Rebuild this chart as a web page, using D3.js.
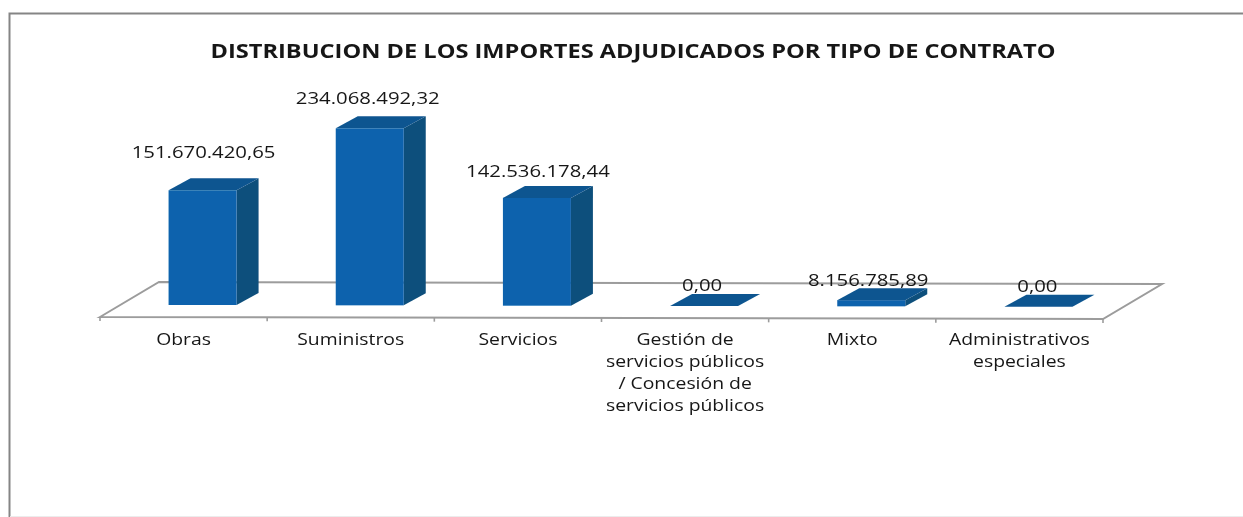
<!DOCTYPE html>
<html>
<head>
<meta charset="utf-8">
<script src="https://cdn.jsdelivr.net/npm/d3@7/dist/d3.min.js"></script>
<style>
  html, body { margin: 0; padding: 0; background: #fff; }
  svg { display: block; }
  text { font-family: "Open Sans", sans-serif; fill: #161616; }
</style>
</head>
<body>
<div id="chart"></div>
<script>
const width = 1243;
const height = 517;

const titleText = 'DISTRIBUCION DE LOS IMPORTES ADJUDICADOS POR TIPO DE CONTRATO';
const categories = ['Obras', 'Suministros', 'Servicios', 'Gestión', 'Mixto', 'Administrativos'];
const categoryLines = [
    ['Obras'],
    ['Suministros'],
    ['Servicios'],
    ['Gestión de', 'servicios públicos', '/ Concesión de', 'servicios públicos'],
    ['Mixto'],
    ['Administrativos', 'especiales']
];
const values = [151670420.65, 234068492.32, 142536178.44, 0, 8156785.89, 0];
const valueLabels = ['151.670.420,65', '234.068.492,32', '142.536.178,44', '0,00', '8.156.785,89', '0,00'];

// excel puts the data labels a bit off, these follow the picture
const labelNudgeX = [1, -2, 1, -2, -3, -1];
const labelNudgeY = [-11, -3, 0, 6, 7, 6];

const depthX = 22;
const depthY = 12;
const barW = 68;
const blue = '#0a62ad';
const blueTop = '#0b5590';
const blueSide = '#0d4f7c';

// the scan is wider than the font, so stretch each text after measuring it
function stretch(sel, factor) {
    sel.each(function () {
        const w = this.getComputedTextLength();
        d3.select(this)
            .attr('textLength', w * factor)
            .attr('lengthAdjust', 'spacingAndGlyphs');
    });
}

const svg = d3.select('#chart')
    .append('svg')
    .attr('width', width)
    .attr('height', height);

svg.append('defs').append('filter')
    .attr('id', 'scan')
    .append('feGaussianBlur')
    .attr('stdDeviation', 0.5);

const root = svg.append('g').attr('filter', 'url(#scan)');

// scanned frame, only top and left really show
root.append('path')
    .attr('d', 'M9.5,517V13.5H1243')
    .attr('fill', 'none')
    .attr('stroke', '#858585')
    .attr('stroke-width', 2);
root.append('line')
    .attr('x1', 10)
    .attr('x2', 1243)
    .attr('y1', 516.5)
    .attr('y2', 516.5)
    .attr('stroke', '#ececec')
    .attr('stroke-width', 1);

root.append('text')
    .attr('x', 633)
    .attr('y', 58)
    .attr('text-anchor', 'middle')
    .attr('font-size', 20)
    .attr('font-weight', 700)
    .attr('textLength', 845)
    .attr('lengthAdjust', 'spacingAndGlyphs')
    .text(titleText);

const x = d3.scaleBand()
    .domain(categories)
    .range([100, 1103]);

// floor of the scan is a little tilted
const floor = d3.scaleLinear()
    .domain([100, 1103])
    .range([317, 319]);

const y = d3.scaleLinear()
    .domain([0, 234068492.32])
    .range([0, 177]);

const backX = 59;
const backY = -35;

root.append('path')
    .attr('d', `M100,${floor(100)}L${100 + backX},${floor(100) + backY}L${1103 + backX},${floor(1103) + backY}L1103,${floor(1103)}Z`)
    .attr('fill', 'none')
    .attr('stroke', '#9c9c9c')
    .attr('stroke-width', 2);

root.selectAll('.tick')
    .data(x.domain().map(d => x(d)).concat([1103]))
    .enter()
    .append('line')
    .attr('class', 'tick')
    .attr('x1', d => d)
    .attr('x2', d => d)
    .attr('y1', d => floor(d))
    .attr('y2', d => floor(d) + 4)
    .attr('stroke', '#9c9c9c')
    .attr('stroke-width', 1.6);

const bars = root.selectAll('.bar')
    .data(categories)
    .enter()
    .append('g')
    .attr('class', 'bar');

const left = (d, i) => x(d) + x.bandwidth() / 2 + 19 - barW / 2;
const base = (d, i) => floor(x(d)) - 12;
const topY = (d, i) => base(d, i) - y(values[i]);

bars.append('path')
    .attr('fill', blueSide)
    .attr('d', (d, i) => {
        const r = left(d, i) + barW, b = base(d, i), t = topY(d, i);
        return `M${r},${b}L${r},${t}L${r + depthX},${t - depthY}L${r + depthX},${b - depthY}Z`;
    });

bars.append('rect')
    .attr('fill', blue)
    .attr('x', left)
    .attr('y', topY)
    .attr('width', barW)
    .attr('height', (d, i) => y(values[i]));

bars.append('path')
    .attr('fill', blueTop)
    .attr('d', (d, i) => {
        const l = left(d, i), t = topY(d, i);
        return `M${l},${t}L${l + barW},${t}L${l + barW + depthX},${t - depthY}L${l + depthX},${t - depthY}Z`;
    });

bars.append('text')
    .attr('x', (d, i) => left(d, i) + barW / 2 + labelNudgeX[i])
    .attr('y', (d, i) => topY(d, i) - depthY - 9 + labelNudgeY[i])
    .attr('text-anchor', 'middle')
    .attr('font-size', 16)
    .text((d, i) => valueLabels[i])
    .call(stretch, 1.27);

categoryLines.forEach((lines, i) => {
    root.selectAll(`.cat${i}`)
        .data(lines)
        .enter()
        .append('text')
        .attr('class', `cat${i}`)
        .attr('x', x(categories[i]) + x.bandwidth() / 2)
        .attr('y', (d, j) => 345 + j * 22)
        .attr('text-anchor', 'middle')
        .attr('font-size', 16)
        .text(d => d)
        .call(stretch, 1.21);
});
</script>
</body>
</html>
